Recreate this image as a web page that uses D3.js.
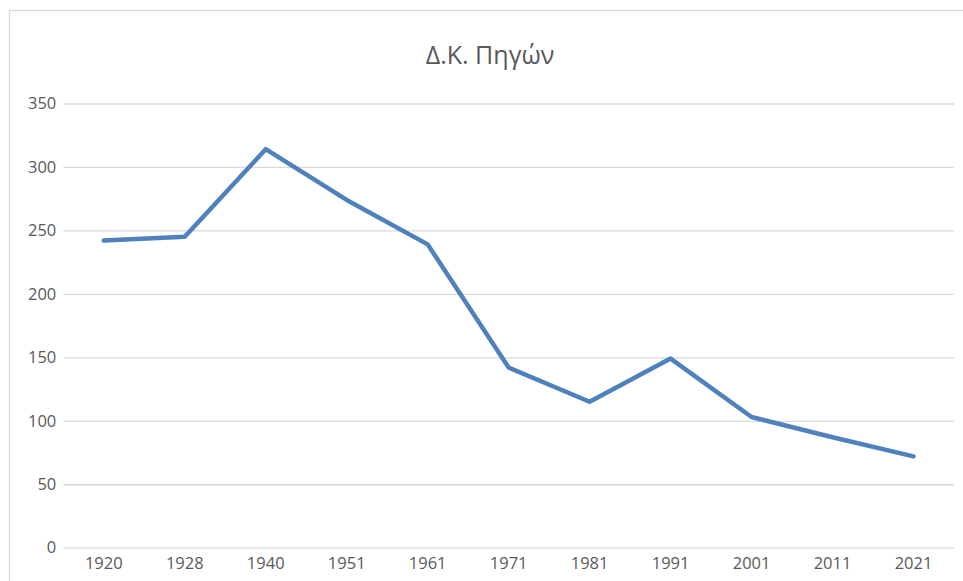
<!DOCTYPE html>
<html>
<head>
<meta charset="utf-8">
<script src="https://cdn.jsdelivr.net/npm/d3@7"></script>
<style>
  body { margin: 0; background: #fff; }
  text { font-family: "Open Sans", "Liberation Sans", sans-serif; fill: #595959; }
</style>
</head>
<body>
<script>
"use strict";

var title = "Δ.Κ. Πηγών";
var years = ["1920", "1928", "1940", "1951", "1961", "1971", "1981", "1991", "2001", "2011", "2021"];
var population = [242, 245, 314, 274, 239, 142, 115, 149, 103, 87, 72];
var yTicks = [0, 50, 100, 150, 200, 250, 300, 350];

var W = 963, H = 581;
var margin = { top: 103.5, right: 9, bottom: 33.3, left: 63.3 };
var w = W - margin.left - margin.right,
    h = H - margin.top - margin.bottom;

var svg = d3.select("body").append("svg").attr("width", W).attr("height", H);

//Chart border
svg.append("rect").attr("x", 9.5).attr("y", 10.5).attr("width", W + 20).attr("height", H + 20)
  .style("fill", "none").style("stroke", "#d9d9d9").style("stroke-width", 1.3);

//Title
svg.append("text").attr("x", 490).attr("y", 64).attr("text-anchor", "middle")
  .style("font-size", "25px").text(title);

var g = svg.append("g").attr("transform", "translate(" + margin.left + "," + margin.top + ")");

var xScale = d3.scaleBand().domain(years).range([0, w]);
var yScale = d3.scaleLinear().domain([0, 350]).range([h, 0]);

//Gridlines + y labels
var yAxis = d3.axisLeft(yScale).tickValues(yTicks).tickSize(-w).tickPadding(7);
g.append("g").attr("class", "y axis").call(yAxis).call(function (s) {
  s.select(".domain").remove();
  s.selectAll(".tick line").style("stroke", "#d9d9d9").style("stroke-width", 1.3);
  s.selectAll(".tick text").style("font-size", "16.5px").attr("fill", "#595959");
});

//X labels
var xAxis = d3.axisBottom(xScale).tickSize(0).tickPadding(10);
g.append("g").attr("class", "x axis").attr("transform", "translate(0," + h + ")").call(xAxis).call(function (s) {
  s.select(".domain").remove();
  s.selectAll(".tick text").style("font-size", "16.5px").attr("fill", "#595959");
});

//Line
var line = d3.line()
  .x(function (d, i) { return xScale(years[i]) + xScale.bandwidth() / 2; })
  .y(function (d) { return yScale(d); });

g.append("path").datum(population).attr("d", line)
  .style("fill", "none").style("stroke", "#4f81bd").style("stroke-width", 4.5)
  .style("stroke-linejoin", "round").style("stroke-linecap", "round");
</script>
</body>
</html>
